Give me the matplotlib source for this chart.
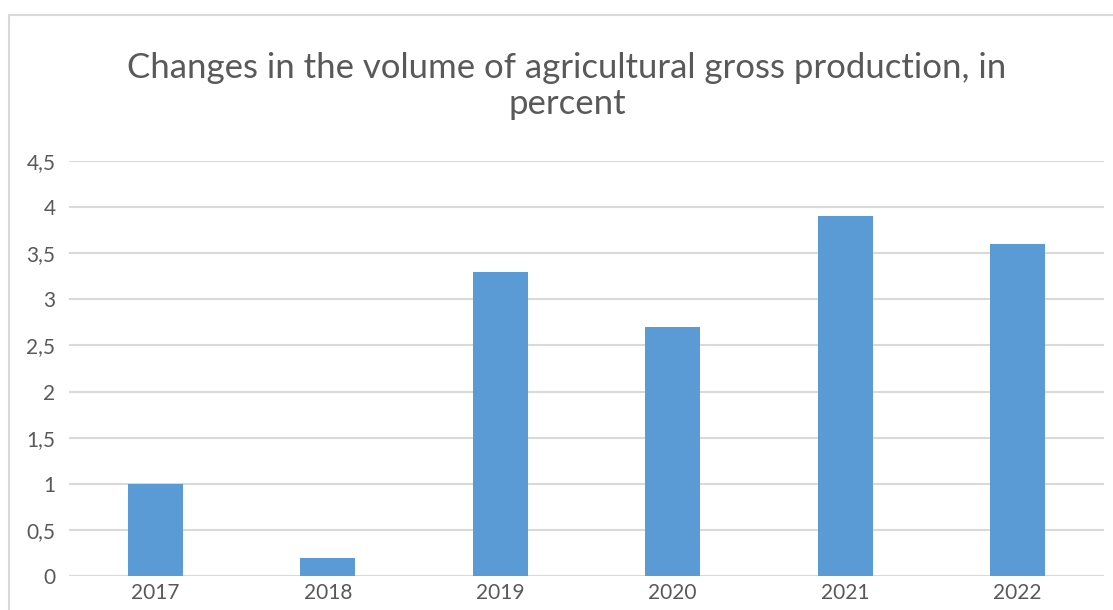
import matplotlib.pyplot as plt
from matplotlib.patches import Rectangle

plt.rcParams['font.family'] = ['Lato', 'DejaVu Sans']

years = ['2017', '2018', '2019', '2020', '2021', '2022']
values = [1.0, 0.2, 3.3, 2.7, 3.9, 3.6]
yticks = [0, 0.5, 1, 1.5, 2, 2.5, 3, 3.5, 4, 4.5]

text_color = '#595959'
grid_color = '#d9d9d9'

fig = plt.figure(figsize=(11.13, 6.10), dpi=100)
# chart area border (Excel-like)
fig.patches.append(Rectangle((9 / 1113, -0.1), 1.2, 1.1 - 15 / 610,
                             transform=fig.transFigure, fill=False,
                             edgecolor=grid_color, linewidth=1.5))

ax = fig.add_axes([69.3 / 1113, 34 / 610, 1034.4 / 1113, 415 / 610])
x = range(len(years))
ax.bar(x, values, width=0.32, color='#5b9bd5', zorder=3)

ax.set_xlim(-0.5, len(years) - 0.5)
ax.set_ylim(0, 4.5)
ax.set_yticks(yticks)
ax.set_yticklabels([f'{v:g}'.replace('.', ',') for v in yticks])
ax.set_xticks(list(x))
ax.set_xticklabels(years)

ax.grid(axis='y', color=grid_color, linewidth=1.5, zorder=0)
for s in ax.spines.values():
    s.set_visible(False)
ax.tick_params(length=0, labelsize=15, colors=text_color)
ax.tick_params(axis='y', pad=10)
ax.tick_params(axis='x', pad=5)

fig.text(567 / 1113, 1 - 86 / 610,
         'Changes in the volume of agricultural gross production, in\npercent',
         ha='center', va='center', fontsize=25, color=text_color,
         linespacing=1.17)

fig.savefig('out.png', dpi=100)
